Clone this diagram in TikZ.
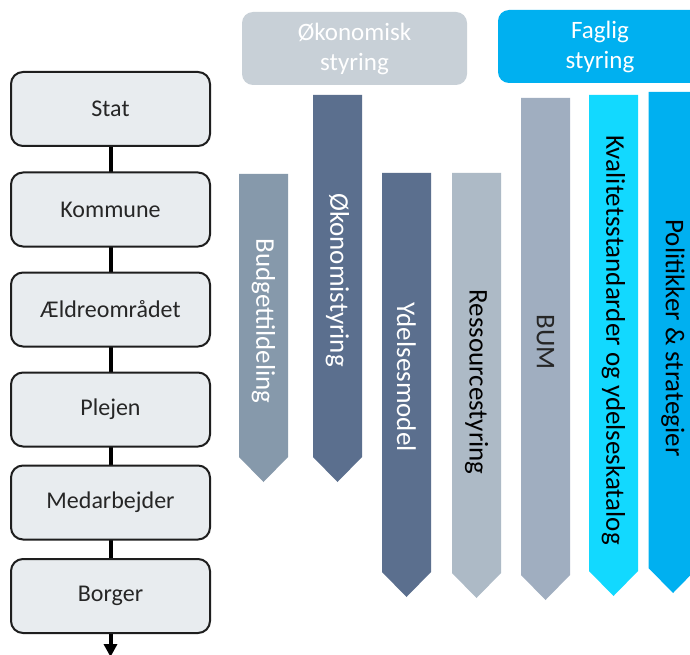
\documentclass[tikz,border=0pt]{standalone}
\usepackage{fontspec}
\setmainfont{Carlito}
\usetikzlibrary{arrows.meta}
\definecolor{boxfill}{HTML}{E8ECEF}
\definecolor{boxline}{HTML}{1E1E1E}
\definecolor{hdrgray}{HTML}{C8D0D7}
\definecolor{hdrblue}{HTML}{00B0F0}
\definecolor{cBudget}{HTML}{8699AB}
\definecolor{cDark}{HTML}{5B6F8E}
\definecolor{cRes}{HTML}{ADBAC6}
\definecolor{cBum}{HTML}{A0AEC0}
\definecolor{cKval}{HTML}{12D9FF}
\definecolor{cPol}{HTML}{00B0F0}
\newcommand{\mydownarrow}[8]{%
  % #1 name, #2 cx, #3 top, #4 shoulder, #5 text y, #6 fill, #7 text colour, #8 text
  \fill[#6] (#2-24.5,#3) -- (#2+24.5,#3) -- (#2+24.5,#4) -- (#2,#4+25) -- (#2-24.5,#4) -- cycle;
  \node[arrtext, text=#7] (#1) at (#2,#5) {#8};
}
\begin{document}
\begin{tikzpicture}[x=1pt,y=-1pt,
  level/.style={draw=boxline, line width=2pt, fill=boxfill, rounded corners=12pt,
    minimum width=199pt, minimum height=74pt, inner sep=0pt,
    text=black!85, font=\fontsize{24}{28}\selectfont},
  hdr/.style={inner sep=0pt, text=white, align=center,
    font=\fontsize{25}{30}\selectfont},
  arrtext/.style={rotate=-90, inner sep=0pt, font=\fontsize{27}{30}\selectfont},
  link/.style={draw=black, line width=4pt}
]
\clip (0,0) rectangle (690,655);
\fill[white] (0,0) rectangle (690,655);

% left hierarchy: connectors first, boxes on top
\coordinate (c1) at (110.5,109);
\coordinate (c6) at (110.5,596);
\coordinate (endpt) at (110.5,657);
\draw[link] (c1) -- (c6);
\draw[link, -{Triangle[width=13pt,length=13pt]}] (c6) -- (endpt);
\node[level] (stat) at (110.5,109) {Stat};
\node[level] (kom) at (110.5,209.5) {Kommune};
\node[level] (aeld) at (110.5,309.5) {Ældreområdet};
\node[level] (plej) at (110.5,409.5) {Plejen};
\node[level] (med) at (110.5,502.5) {Medarbejder};
\node[level] (borg) at (110.5,596) {Borger};

% headers
\fill[hdrgray, rounded corners=11pt] (242,12) rectangle (467,85);
\node[hdr] (okhdr) at (354.5,48.5) {Økonomisk\\styring};
\fill[hdrblue, rounded corners=11pt] (498,10) rectangle (710,83);
\node[hdr] (faghdr) at (600,46.5) {Faglig\\styring};

% vertical arrows
\mydownarrow{budget}{263.5}{174}{457}{321}{cBudget}{white}{Budgettildeling}
\mydownarrow{okstyr}{337.5}{95}{457}{280}{cDark}{white}{Økonomistyring}
\mydownarrow{ydel}{406.5}{173}{572}{377}{cDark}{white}{Ydelsesmodel}
\mydownarrow{ress}{476.5}{173}{573}{382}{cRes}{black}{Ressourcestyring}
\mydownarrow{bum}{545.5}{98}{575}{342}{cBum}{black!85}{BUM}
\mydownarrow{kval}{613.5}{95}{571}{340}{cKval}{black}{Kvalitetsstandarder og ydelseskatalog}
\mydownarrow{pol}{673}{92}{568}{338}{cPol}{black}{Politikker \& strategier}
\end{tikzpicture}
\end{document}
